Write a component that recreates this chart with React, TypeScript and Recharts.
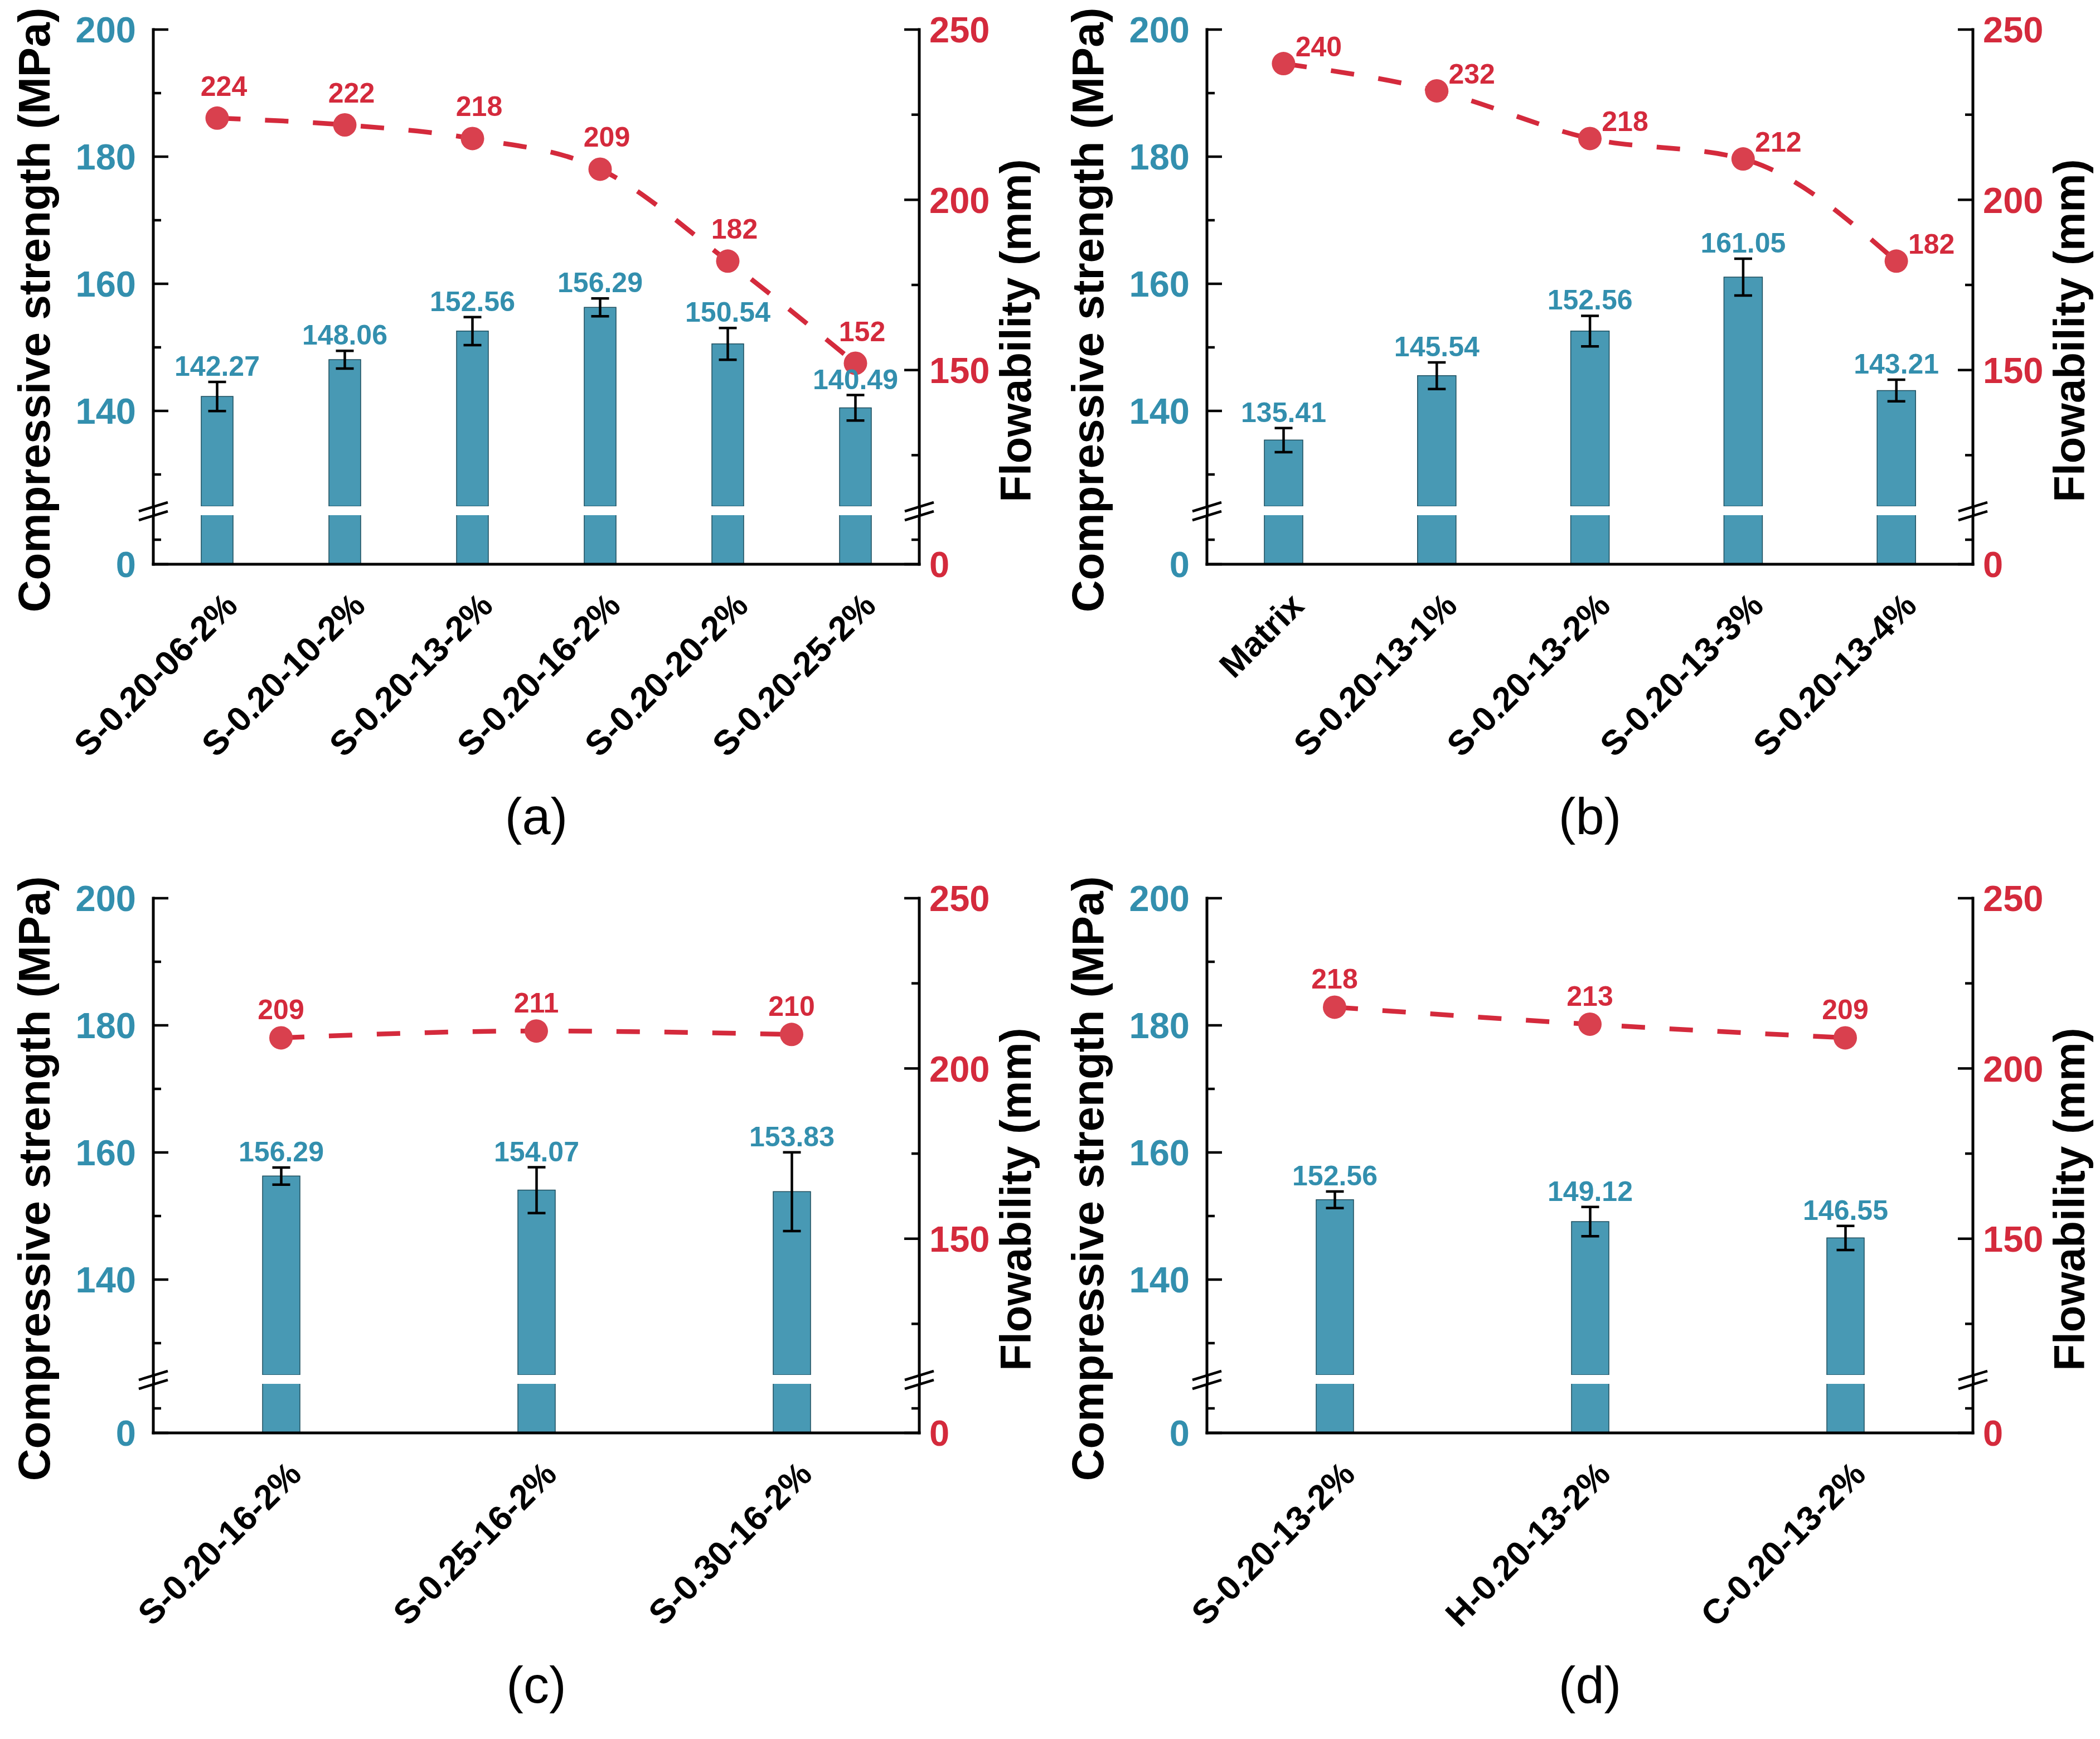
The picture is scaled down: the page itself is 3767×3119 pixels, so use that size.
import React from 'react';
import { ComposedChart, Bar, Line, XAxis, YAxis, ErrorBar, LabelList } from 'recharts';

// ---- data ----
const catsA = ['S-0.20-06-2%', 'S-0.20-10-2%', 'S-0.20-13-2%', 'S-0.20-16-2%', 'S-0.20-20-2%', 'S-0.20-25-2%'];
const strengthA = [142.27, 148.06, 152.56, 156.29, 150.54, 140.49];
const errA = [2.3, 1.4, 2.2, 1.4, 2.5, 2.0];
const flowA = [224, 222, 218, 209, 182, 152];

const catsB = ['Matrix', 'S-0.20-13-1%', 'S-0.20-13-2%', 'S-0.20-13-3%', 'S-0.20-13-4%'];
const strengthB = [135.41, 145.54, 152.56, 161.05, 143.21];
const errB = [1.9, 2.1, 2.4, 2.9, 1.7];
const flowB = [240, 232, 218, 212, 182];

const catsC = ['S-0.20-16-2%', 'S-0.25-16-2%', 'S-0.30-16-2%'];
const strengthC = [156.29, 154.07, 153.83];
const errC = [1.35, 3.6, 6.2];
const flowC = [209, 211, 210];

const catsD = ['S-0.20-13-2%', 'H-0.20-13-2%', 'C-0.20-13-2%'];
const strengthD = [152.56, 149.12, 146.55];
const errD = [1.3, 2.3, 1.9];
const flowD = [218, 213, 209];

// axis ticks
const leftTicksUpper = [130, 140, 150, 160, 170, 180, 190, 200];
const leftMajorUpper = [140, 160, 180, 200];
const rightTicksUpper = [125, 150, 175, 200, 225, 250];
const rightMajorUpper = [150, 200, 250];
const ticksLower = [0, 5];
const majorLower = [0];

const STRENGTH_DOMAIN: [number, number] = [125, 200];
const FLOW_DOMAIN: [number, number] = [110, 250];
const LOWER_DOMAIN: [number, number] = [0, 10];

// ---- style ----
const FONT = '"Liberation Sans", Arial, Helvetica, sans-serif';
const TEAL = '#4899b4';
const TEAL_TEXT = '#338fae';
const RED = '#d42a3c';
const DOT = '#d9404e';

const CHART_W = 1876;
const PLOT_LEFT = 275;
const PLOT_RIGHT = 1649;
const PLOT_TOP = 53;
const BREAK_TOP = 908;
const BREAK_BOTTOM = 924;
const PLOT_BOTTOM = 1012;
const X_AXIS_H = 520;
const AXIS_W = 5;

const axisLine = { stroke: '#000', strokeWidth: AXIS_W, strokeLinecap: 'square' as const };

const makeLeftTick = (majors: number[]) => (props: any) => {
  const { x, y, payload } = props;
  const major = majors.includes(payload.value);
  return (
    <g>
      <line x1={x} x2={x + (major ? 27 : 14)} y1={y} y2={y} stroke="#000" strokeWidth={4.5} />
      {major && (
        <text x={x - 31} y={y} dy="0.36em" textAnchor="end" fill={TEAL_TEXT} fontSize={65} fontWeight="bold" fontFamily={FONT}>
          {payload.value}
        </text>
      )}
    </g>
  );
};

const makeRightTick = (majors: number[]) => (props: any) => {
  const { x, y, payload } = props;
  const major = majors.includes(payload.value);
  return (
    <g>
      <line x1={x} x2={x - (major ? 27 : 14)} y1={y} y2={y} stroke="#000" strokeWidth={4.5} />
      {major && (
        <text x={x + 18} y={y} dy="0.36em" textAnchor="start" fill={RED} fontSize={65} fontWeight="bold" fontFamily={FONT}>
          {payload.value}
        </text>
      )}
    </g>
  );
};

const XTick = (props: any) => {
  const { x, y, payload } = props;
  const ax = x + 40;
  const ay = y + 78;
  return (
    <text x={ax} y={ay} textAnchor="end" transform={`rotate(-45 ${ax} ${ay})`} fill="#000" fontSize={62} fontWeight="bold" fontFamily={FONT}>
      {payload.value}
    </text>
  );
};

const box = (props: any) => {
  const vb = props.viewBox || {};
  return {
    x: props.x ?? vb.x,
    y: props.y ?? vb.y,
    width: props.width ?? vb.width ?? 0,
    height: props.height ?? vb.height ?? 0,
  };
};

const makeBarLabel = (errs: number[]) => (props: any) => {
  const { x, y, width, height } = box(props);
  const value = Number(props.value);
  const pxPerUnit = height / (value - STRENGTH_DOMAIN[0]);
  const errPx = errs[props.index] * pxPerUnit;
  return (
    <text x={x + width / 2} y={y - errPx - 11} textAnchor="middle" fill={TEAL_TEXT} fontSize={50} fontWeight="bold" fontFamily={FONT}>
      {value.toFixed(2)}
    </text>
  );
};

const makeFlowLabel = (dx: number, dy: number) => (props: any) => {
  const { x, y } = box(props);
  return (
    <text x={x + dx} y={y - dy} textAnchor="middle" fill={RED} fontSize={50} fontWeight="bold" fontFamily={FONT}>
      {props.value}
    </text>
  );
};

interface PanelProps {
  left: number;
  top: number;
  cats: string[];
  strength: number[];
  err: number[];
  flow: number[];
  barSize: number;
  labelDx: number;
  labelDy: number;
  caption: string;
}

const Panel: React.FC<PanelProps> = ({ left, top, cats, strength, err, flow, barSize, labelDx, labelDy, caption }) => {
  const data = cats.map((name, i) => ({ name, strength: strength[i], err: err[i], flow: flow[i] }));
  const lowerH = PLOT_BOTTOM - BREAK_BOTTOM;
  const breakY = [BREAK_TOP + 1, BREAK_BOTTOM + 1];
  return (
    <div style={{ position: 'absolute', left, top, width: CHART_W, height: 1560 }}>
      <div style={{ position: 'absolute', left: 0, top: 0 }}>
        <ComposedChart width={CHART_W} height={BREAK_TOP} data={data} margin={{ top: PLOT_TOP, right: 0, bottom: 0, left: 0 }}>
          <XAxis dataKey="name" orientation="top" height={0} tick={false} tickLine={false} axisLine={axisLine} />
          <YAxis yAxisId="left" width={PLOT_LEFT} domain={STRENGTH_DOMAIN} ticks={leftTicksUpper} allowDataOverflow interval={0}
            tickSize={0} tickMargin={0} tickLine={false} axisLine={axisLine} tick={makeLeftTick(leftMajorUpper)} />
          <YAxis yAxisId="right" orientation="right" width={CHART_W - PLOT_RIGHT} domain={FLOW_DOMAIN} ticks={rightTicksUpper}
            interval={0} tickSize={0} tickMargin={0} tickLine={false} axisLine={axisLine} tick={makeRightTick(rightMajorUpper)} />
          <Bar yAxisId="left" dataKey="strength" fill={TEAL} stroke="#1d4e5e" strokeWidth={1.5} barSize={barSize} isAnimationActive={false}>
            <ErrorBar dataKey="err" width={16} strokeWidth={4.5} stroke="#000" direction="y" />
            <LabelList dataKey="strength" content={makeBarLabel(err)} />
          </Bar>
          <Line yAxisId="right" dataKey="flow" type="monotone" stroke={RED} strokeWidth={8.5} strokeDasharray="42 44"
            dot={{ r: 21, fill: DOT, stroke: 'none' }} activeDot={false} isAnimationActive={false}>
            <LabelList dataKey="flow" content={makeFlowLabel(labelDx, labelDy)} />
          </Line>
        </ComposedChart>
      </div>

      {/* axis continuation across the break */}
      <div style={{
        position: 'absolute', left: PLOT_LEFT - AXIS_W / 2, top: BREAK_TOP, width: PLOT_RIGHT - PLOT_LEFT + AXIS_W,
        height: BREAK_BOTTOM - BREAK_TOP, boxSizing: 'border-box', borderLeft: `${AXIS_W}px solid #000`, borderRight: `${AXIS_W}px solid #000`,
      }} />

      <div style={{ position: 'absolute', left: 0, top: BREAK_BOTTOM }}>
        <ComposedChart width={CHART_W} height={lowerH + X_AXIS_H} data={data} margin={{ top: 0, right: 0, bottom: 0, left: 0 }}>
          <XAxis dataKey="name" height={X_AXIS_H} interval={0} tickSize={0} tickMargin={0} tickLine={false} axisLine={axisLine} tick={XTick} />
          <YAxis yAxisId="left" width={PLOT_LEFT} domain={LOWER_DOMAIN} ticks={ticksLower} allowDataOverflow interval={0}
            tickSize={0} tickMargin={0} tickLine={false} axisLine={axisLine} tick={makeLeftTick(majorLower)} />
          <YAxis yAxisId="right" orientation="right" width={CHART_W - PLOT_RIGHT} domain={LOWER_DOMAIN} ticks={ticksLower} allowDataOverflow
            interval={0} tickSize={0} tickMargin={0} tickLine={false} axisLine={axisLine} tick={makeRightTick(majorLower)} />
          <Bar yAxisId="left" dataKey="strength" fill={TEAL} stroke="#1d4e5e" strokeWidth={1.5} barSize={barSize} isAnimationActive={false} />
        </ComposedChart>
      </div>

      {/* break marks */}
      <svg style={{ position: 'absolute', left: 0, top: 0 }} width={CHART_W} height={1100}>
        {[PLOT_LEFT, PLOT_RIGHT].map((ax) =>
          breakY.map((by) => (
            <line key={`${ax}-${by}`} x1={ax - 26} y1={by + 8} x2={ax + 26} y2={by - 8} stroke="#000" strokeWidth={4.5} />
          )),
        )}
      </svg>

      {/* axis titles */}
      <div style={{
        position: 'absolute', left: 62 - 700, top: 556 - 50, width: 1400, height: 100, transform: 'rotate(-90deg)',
        display: 'flex', alignItems: 'center', justifyContent: 'center', fontFamily: FONT, fontWeight: 'bold', fontSize: 80, color: '#000', whiteSpace: 'nowrap',
      }}>
        Compressive strength (MPa)
      </div>
      <div style={{
        position: 'absolute', left: 1822 - 700, top: 593 - 50, width: 1400, height: 100, transform: 'rotate(-90deg)',
        display: 'flex', alignItems: 'center', justifyContent: 'center', fontFamily: FONT, fontWeight: 'bold', fontSize: 78, color: '#000', whiteSpace: 'nowrap',
      }}>
        Flowability (mm)
      </div>

      {/* caption */}
      <div style={{
        position: 'absolute', left: (PLOT_LEFT + PLOT_RIGHT) / 2 - 200, top: 1418, width: 400, textAlign: 'center',
        fontFamily: FONT, fontSize: 92, lineHeight: '92px', color: '#000',
      }}>
        {caption}
      </div>
    </div>
  );
};

export default function App() {
  return (
    <div style={{ position: 'absolute', left: 0, top: 0, width: 3767, height: 3119, background: '#fff', overflow: 'hidden' }}>
      <Panel left={0} top={0} cats={catsA} strength={strengthA} err={errA} flow={flowA} barSize={57} labelDx={12} labelDy={40} caption="(a)" />
      <Panel left={1890} top={0} cats={catsB} strength={strengthB} err={errB} flow={flowB} barSize={69} labelDx={63} labelDy={13} caption="(b)" />
      <Panel left={0} top={1558} cats={catsC} strength={strengthC} err={errC} flow={flowC} barSize={67} labelDx={0} labelDy={33} caption="(c)" />
      <Panel left={1890} top={1558} cats={catsD} strength={strengthD} err={errD} flow={flowD} barSize={67} labelDx={0} labelDy={33} caption="(d)" />
    </div>
  );
}
